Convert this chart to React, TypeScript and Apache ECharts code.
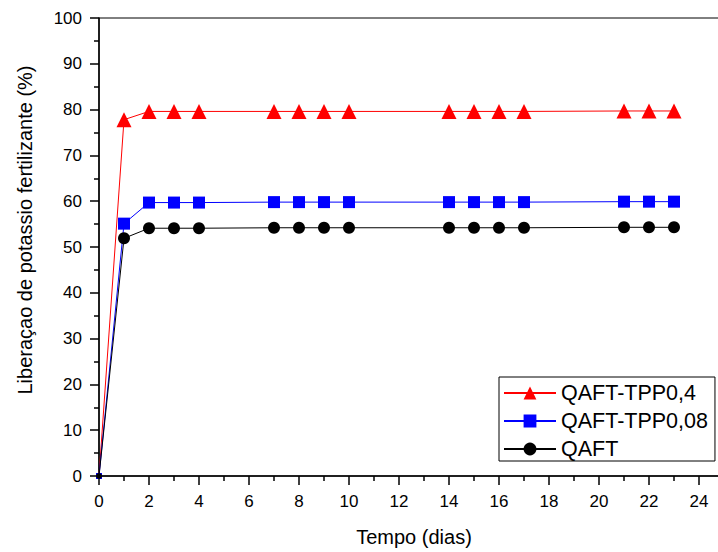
import React, { useEffect, useRef } from "react";
import * as echarts from "echarts";

const days = [0, 1, 2, 3, 4, 7, 8, 9, 10, 14, 15, 16, 17, 21, 22, 23];
const tpp04 = [0, 77.8, 79.6, 79.6, 79.6, 79.6, 79.6, 79.6, 79.6, 79.6, 79.6, 79.6, 79.6, 79.7, 79.7, 79.7];
const tpp008 = [0, 55.1, 59.7, 59.7, 59.7, 59.8, 59.8, 59.8, 59.8, 59.8, 59.8, 59.8, 59.8, 59.9, 59.9, 59.9];
const qaft = [0, 51.9, 54.1, 54.1, 54.1, 54.2, 54.2, 54.2, 54.2, 54.2, 54.2, 54.2, 54.2, 54.3, 54.3, 54.3];
const seriesNames = ["QAFT-TPP0,4", "QAFT-TPP0,08", "QAFT"];
const xName = "Tempo (dias)";
const yName = "Liberaçao de potassio fertilizante (%)";

const FONT = "Arial, 'Liberation Sans', sans-serif";

function toData(vals: number[]) {
  return days.map((d, i) =>
    i === 0 ? { value: [d, vals[i]], symbolSize: 6 } : { value: [d, vals[i]] }
  );
}

export default function App() {
  const ref = useRef<HTMLDivElement>(null);
  useEffect(() => {
    if (!ref.current) return;
    const chart = echarts.init(ref.current, null, { renderer: "svg" });
    const mk = (name: string, vals: number[], color: string, symbol: string, size: number) => ({
      name,
      type: "line",
      data: toData(vals),
      symbol,
      symbolSize: size,
      clip: true,
      lineStyle: { color, width: 1 },
      itemStyle: { color },
      emphasis: { disabled: true },
    });
    chart.setOption({
      animation: false,
      backgroundColor: "#fff",
      grid: {
        left: 99,
        top: 18,
        width: 650,
        height: 460,
        show: true,
        borderColor: "#000",
        borderWidth: 1,
        containLabel: false,
      },
      xAxis: {
        type: "value",
        min: 0,
        max: 26,
        interval: 2,
        name: xName,
        nameLocation: "middle",
        nameGap: 51,
        nameTextStyle: { fontSize: 20, color: "#000", fontFamily: FONT, padding: [0, 20, 0, 0] },
        axisLine: { show: true, lineStyle: { color: "#000", width: 1.5 } },
        axisTick: { show: true, length: 9, inside: false, lineStyle: { color: "#000", width: 1.5 } },
        minorTick: { show: true, splitNumber: 2, length: 5, lineStyle: { color: "#000", width: 1.5 } },
        axisLabel: {
          fontSize: 17,
          color: "#000",
          margin: 17,
          fontFamily: FONT,
          showMaxLabel: false,
          formatter: (v: number) => (v > 24 ? "" : String(v)),
        },
        splitLine: { show: false },
      },
      yAxis: {
        type: "value",
        min: 0,
        max: 100,
        interval: 10,
        axisLine: { show: true, lineStyle: { color: "#000", width: 1.5 } },
        axisTick: { show: true, length: 9, inside: false, lineStyle: { color: "#000", width: 1.5 } },
        minorTick: { show: true, splitNumber: 2, length: 5, lineStyle: { color: "#000", width: 1.5 } },
        axisLabel: { fontSize: 17, color: "#000", margin: 17, fontFamily: FONT },
        splitLine: { show: false },
      },
      legend: {
        orient: "vertical",
        left: 499,
        top: 377,
        padding: [5, 7, 1, 4],
        itemGap: 6,
        itemWidth: 52,
        itemHeight: 16,
        borderColor: "#000",
        borderWidth: 1,
        backgroundColor: "#fff",
        textStyle: { fontSize: 21.5, lineHeight: 22, color: "#000", fontFamily: FONT },
        data: seriesNames,
      },
      graphic: [
        {
          type: "text",
          x: 25,
          y: 230,
          rotation: Math.PI / 2,
          style: {
            text: yName,
            fontSize: 20,
            fontFamily: FONT,
            fill: "#000",
            align: "center",
            verticalAlign: "middle",
          },
        },
      ],
      series: [
        mk(seriesNames[0], tpp04, "#ff0000", "triangle", 15),
        mk(seriesNames[1], tpp008, "#0000ff", "rect", 12),
        mk(seriesNames[2], qaft, "#000000", "circle", 12),
      ],
    });
    return () => chart.dispose();
  }, []);
  return (
    <div
      style={{
        position: "absolute",
        left: 0,
        top: 0,
        width: 718,
        height: 552,
        overflow: "hidden",
        background: "#fff",
      }}
    >
      <div ref={ref} style={{ width: 760, height: 552 }} />
    </div>
  );
}
